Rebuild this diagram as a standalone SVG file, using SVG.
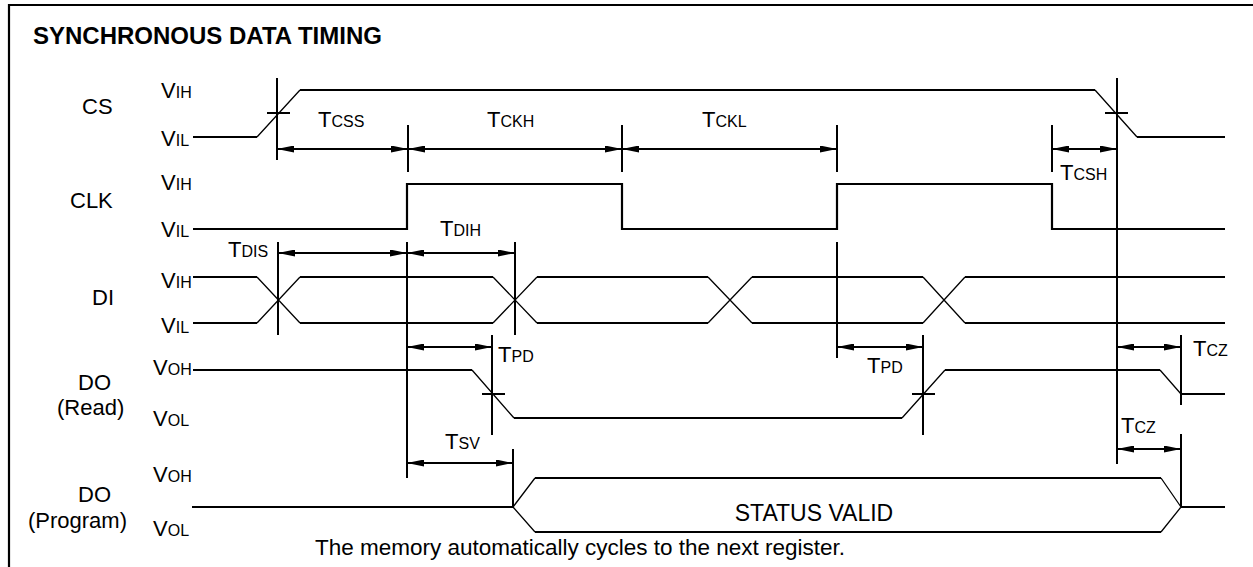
<svg xmlns="http://www.w3.org/2000/svg" width="1253" height="567" viewBox="0 0 1253 567">
<style>
text{font-family:"Liberation Sans",Arial,Helvetica,sans-serif;fill:#000}
.lbl{font-size:22px}
.sub{font-size:16px}
.title{font-size:24px;font-weight:bold}
.sig{fill:none;stroke:#000;stroke-width:2.2}
.ramp{fill:none;stroke:#000;stroke-width:1.3}
.mk{fill:none;stroke:#000;stroke-width:2}
.arr{fill:none;stroke:#000;stroke-width:2;marker-start:url(#ah);marker-end:url(#ah)}
</style>
<defs>
<marker id="ah" viewBox="0 0 17 7" refX="17" refY="3.5" markerWidth="17" markerHeight="7" markerUnits="userSpaceOnUse" orient="auto-start-reverse">
<path d="M0,0 L17,3.5 L0,7 z" fill="#000"/>
</marker>
</defs>
<rect width="1253" height="567" fill="#fff"/>
<path d="M9,567 V5 H1253" fill="none" stroke="#000" stroke-width="2.2"/>
<text class="title" x="33" y="44">SYNCHRONOUS DATA TIMING</text>

<g id="cs">
<text class="lbl" x="82" y="114">CS</text>
<text class="lbl" x="161" y="98">V<tspan class="sub">IH</tspan></text>
<text class="lbl" x="161" y="146">V<tspan class="sub">IL</tspan></text>
<path class="sig" d="M193,137 H257 M300,90 H1095 M1137,137 H1225"/>
<path class="ramp" d="M257,137 L300,90 M1095,90 L1137,137"/>
</g>

<g id="clk">
<text class="lbl" x="70" y="208">CLK</text>
<text class="lbl" x="161" y="190">V<tspan class="sub">IH</tspan></text>
<text class="lbl" x="161" y="237">V<tspan class="sub">IL</tspan></text>
<path class="sig" d="M193,229 H407 V184 H622 V229 H837 V184 H1052 V229 H1225"/>
</g>

<g id="di">
<text class="lbl" x="92" y="305">DI</text>
<text class="lbl" x="161" y="288">V<tspan class="sub">IH</tspan></text>
<text class="lbl" x="161" y="333">V<tspan class="sub">IL</tspan></text>
<path class="sig" d="M193,277 H257 M193,323 H257 M300,277 H493 M300,323 H493 M537,277 H708 M537,323 H708 M752,277 H923 M752,323 H923 M965,277 H1225 M965,323 H1225"/>
<path class="ramp" d="M257,277 L300,323 M257,323 L300,277 M493,277 L537,323 M493,323 L537,277 M708,277 L752,323 M708,323 L752,277 M923,277 L965,323 M923,323 L965,277"/>
</g>

<g id="do-read">
<text class="lbl" x="78" y="390">DO</text>
<text class="lbl" x="57" y="415">(Read)</text>
<text class="lbl" x="153" y="375">V<tspan class="sub">OH</tspan></text>
<text class="lbl" x="153" y="426">V<tspan class="sub">OL</tspan></text>
<path class="sig" d="M193,370 H472 M514,418 H902 M945,370 H1160 M1181,394 H1225"/>
<path class="ramp" d="M472,370 L514,418 M902,418 L945,370 M1160,370 L1181,394"/>
</g>

<g id="do-program">
<text class="lbl" x="78" y="502">DO</text>
<text class="lbl" x="28" y="528">(Program)</text>
<text class="lbl" x="153" y="482">V<tspan class="sub">OH</tspan></text>
<text class="lbl" x="153" y="536">V<tspan class="sub">OL</tspan></text>
<path class="sig" d="M192,507 H513 M535,478 H1161 M535,532 H1161 M1181,507 H1225"/>
<path class="ramp" d="M513,507 L535,478 M513,507 L535,532 M1161,478 L1181,507 M1161,532 L1181,507"/>
<text x="814" y="521" font-size="23" text-anchor="middle">STATUS VALID</text>
</g>

<g id="connectors">
<path class="mk" d="M277,78 V160 M267,113 H290 M1117,78 V464 M1105,113 H1128"/>
<path class="mk" d="M408,125 V172 M622,125 V172 M837,125 V172 M1052,125 V172"/>
<path class="mk" d="M278,242 V335 M407,242 V478 M515,242 V335 M837,242 V358"/>
<path class="mk" d="M492,335 V435 M482,394 H505 M923,335 V435 M912,394 H935 M1181,335 V405"/>
<path class="mk" d="M513,449 V507 M1181,434 V507"/>
<path class="arr" d="M277,149 H408"/>
<path class="arr" d="M408,149 H622"/>
<path class="arr" d="M622,149 H837"/>
<path class="arr" d="M1052,149 H1117"/>
<path class="arr" d="M278,253 H407"/>
<path class="arr" d="M407,253 H515"/>
<path class="arr" d="M407,347 H492"/>
<path class="arr" d="M837,347 H923"/>
<path class="arr" d="M1117,347 H1181"/>
<path class="arr" d="M407,463 H513"/>
<path class="arr" d="M1117,449 H1181"/>
</g>

<g id="timing-labels">
<text class="lbl" x="318" y="127">T<tspan class="sub">CSS</tspan></text>
<text class="lbl" x="487" y="127">T<tspan class="sub">CKH</tspan></text>
<text class="lbl" x="702" y="127">T<tspan class="sub">CKL</tspan></text>
<text class="lbl" x="1060" y="180">T<tspan class="sub">CSH</tspan></text>
<text class="lbl" x="228" y="257">T<tspan class="sub">DIS</tspan></text>
<text class="lbl" x="440" y="236">T<tspan class="sub">DIH</tspan></text>
<text class="lbl" x="498" y="362">T<tspan class="sub">PD</tspan></text>
<text class="lbl" x="867" y="373">T<tspan class="sub">PD</tspan></text>
<text class="lbl" x="1193" y="356">T<tspan class="sub">CZ</tspan></text>
<text class="lbl" x="445" y="449">T<tspan class="sub">SV</tspan></text>
<text class="lbl" x="1121" y="433">T<tspan class="sub">CZ</tspan></text>
</g>

<text x="580" y="555" font-size="22.5" text-anchor="middle">The memory automatically cycles to the next register.</text>
</svg>
